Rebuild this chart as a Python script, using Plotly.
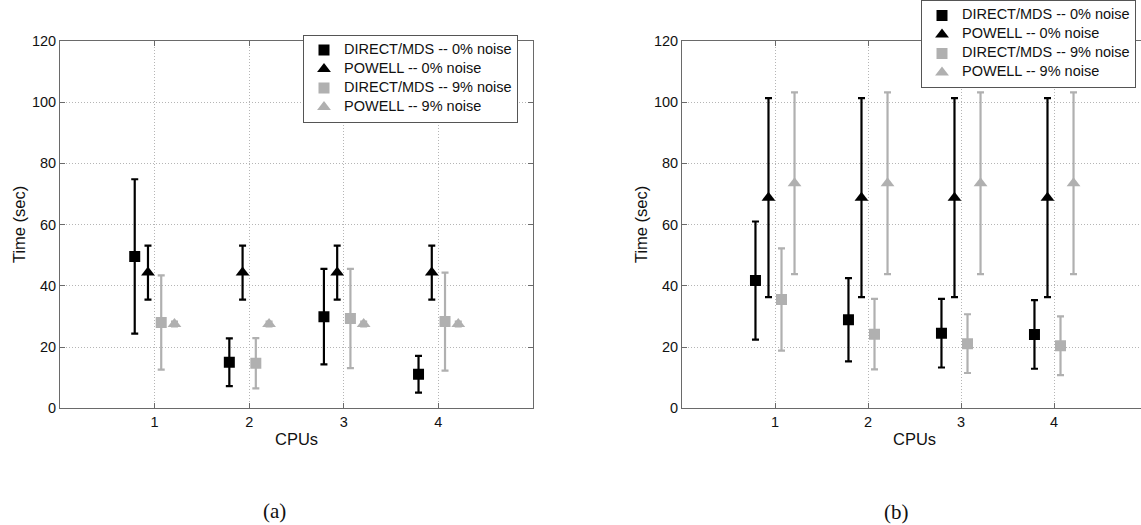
import plotly.graph_objects as go

cpus = [1, 2, 3, 4]
series_names = ["DIRECT/MDS -- 0% noise", "POWELL -- 0% noise",
                "DIRECT/MDS -- 9% noise", "POWELL -- 9% noise"]
y_ticks = [0, 20, 40, 60, 80, 100, 120]

# Panel (a)
a_direct0 = [49.6, 15.0, 29.9, 11.1]
a_direct0_err = [25.2, 7.8, 15.6, 6.0]
a_powell0 = [44.3, 44.3, 44.3, 44.3]
a_powell0_err = [8.8, 8.8, 8.8, 8.8]
a_direct9 = [28.0, 14.7, 29.3, 28.3]
a_direct9_err = [15.4, 8.2, 16.2, 16.0]
a_powell9 = [27.5, 27.5, 27.5, 27.5]
a_powell9_err = [0.8, 0.8, 0.8, 0.8]

# Panel (b)
b_direct0 = [41.7, 28.9, 24.5, 24.1]
b_direct0_err = [19.3, 13.6, 11.2, 11.2]
b_powell0 = [68.8, 68.8, 68.8, 68.8]
b_powell0_err = [32.5, 32.5, 32.5, 32.5]
b_direct9 = [35.5, 24.2, 21.1, 20.4]
b_direct9_err = [16.7, 11.5, 9.6, 9.6]
b_powell9 = [73.5, 73.5, 73.5, 73.5]
b_powell9_err = [29.7, 29.7, 29.7, 29.7]

offsets = [-0.21, -0.07, 0.07, 0.21]
BLACK = "#000000"
GRAY = "#b0b0b0"
colors = [BLACK, BLACK, GRAY, GRAY]
symbols = ["square", "triangle-up", "square", "triangle-up"]
sizes = [11, 12, 11, 12]

SANS = "Liberation Sans, Arial, sans-serif"
SERIF = "Liberation Serif, DejaVu Serif, serif"

fig = go.Figure()

panels = [
    ("x", "y", "legend", [(a_direct0, a_direct0_err), (a_powell0, a_powell0_err),
                          (a_direct9, a_direct9_err), (a_powell9, a_powell9_err)]),
    ("x2", "y2", "legend2", [(b_direct0, b_direct0_err), (b_powell0, b_powell0_err),
                             (b_direct9, b_direct9_err), (b_powell9, b_powell9_err)]),
]

for xa, ya, lg, data in panels:
    for i, (vals, errs) in enumerate(data):
        fig.add_trace(go.Scatter(
            x=[c + offsets[i] for c in cpus], y=vals,
            mode="markers",
            name='<span style="font-size:14.5px">' + series_names[i] + "</span>",
            marker=dict(symbol=symbols[i], size=sizes[i], color=colors[i]),
            error_y=dict(type="data", array=errs, visible=True,
                         color=colors[i], thickness=2.2, width=3.5),
            xaxis=xa, yaxis=ya, legend=lg, showlegend=True,
        ))

W, H = 1141, 525
ydom = [1 - 408 / H, 1 - 40 / H]
AX = "#6a6a6a"
axis_common = dict(
    showline=True, linecolor=AX, linewidth=1,
    ticks="inside", ticklen=5, tickcolor=AX,
    showgrid=True, gridcolor="#b5b5b5", griddash="1px,2px", gridwidth=1,
    zeroline=False, automargin=False,
    tickfont=dict(family=SANS, size=14.5, color="#111111"),
)

legend_common = dict(
    xanchor="left", yanchor="middle",
    bgcolor="white", bordercolor="#555555", borderwidth=1,
    font=dict(family=SANS, size=10, color="#111111"),
    tracegroupgap=0,
)

title_font = dict(family=SANS, size=16.5, color="#111111")

fig.update_layout(
    width=W, height=H,
    margin=dict(l=0, r=0, t=0, b=0),
    paper_bgcolor="white", plot_bgcolor="white",
    showlegend=True,
    xaxis=dict(domain=[60 / W, 533 / W], range=[0, 5], tickvals=cpus,
               mirror="ticks", anchor="y", **axis_common),
    yaxis=dict(domain=ydom, range=[0, 120], tickvals=y_ticks,
               mirror="ticks", anchor="x", **axis_common),
    xaxis2=dict(domain=[682 / W, 1.0], range=[0, (W - 682) / 93.0], tickvals=cpus,
                mirror="ticks", anchor="y2", **axis_common),
    yaxis2=dict(domain=ydom, range=[0, 120], tickvals=y_ticks,
                mirror=False, anchor="x2", **axis_common),
    legend=dict(x=303 / W, y=1 - 78.5 / H, **legend_common),
    legend2=dict(x=921 / W, y=1 - 43.5 / H, **legend_common),
    annotations=[
        dict(text="CPUs", x=296.5 / W, y=1 - 439 / H, xref="paper", yref="paper",
             xanchor="center", yanchor="middle", showarrow=False, font=title_font),
        dict(text="CPUs", x=914.5 / W, y=1 - 439 / H, xref="paper", yref="paper",
             xanchor="center", yanchor="middle", showarrow=False, font=title_font),
        dict(text="Time (sec)", x=18.5 / W, y=1 - 224 / H, xref="paper", yref="paper",
             xanchor="center", yanchor="middle", textangle=-90, showarrow=False, font=title_font),
        dict(text="Time (sec)", x=640.5 / W, y=1 - 224 / H, xref="paper", yref="paper",
             xanchor="center", yanchor="middle", textangle=-90, showarrow=False, font=title_font),
        dict(text="(a)", x=274 / W, y=1 - 511 / H, xref="paper", yref="paper",
             xanchor="center", yanchor="middle", showarrow=False,
             font=dict(family=SERIF, size=21, color="#111111")),
        dict(text="(b)", x=896 / W, y=1 - 512 / H, xref="paper", yref="paper",
             xanchor="center", yanchor="middle", showarrow=False,
             font=dict(family=SERIF, size=21, color="#111111")),
    ],
)

fig.write_html("out.html")
